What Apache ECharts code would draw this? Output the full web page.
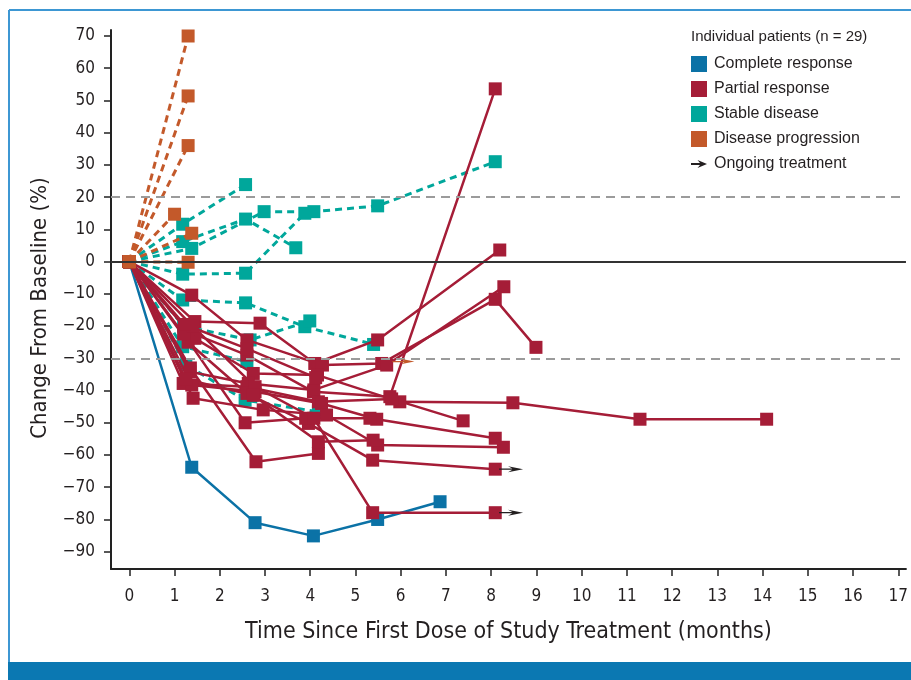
<!DOCTYPE html>
<html>
<head>
<meta charset="utf-8">
<script src="https://cdn.jsdelivr.net/npm/echarts@6.0.0/dist/echarts.min.js"></script>
<style>
  html, body { margin: 0; padding: 0; background: #fff; }
  #chart { width: 911px; height: 680px; }
</style>
</head>
<body>
<div id="chart"></div>
<script>
// tick labels
const xTicks = [0, 1, 2, 3, 4, 5, 6, 7, 8, 9, 10, 11, 12, 13, 14, 15, 16, 17];
const yTicks = [-90, -80, -70, -60, -50, -40, -30, -20, -10, 0, 10, 20, 30, 40, 50, 60, 70];

// [months, % change] per patient
const completeResponse = [
  [[0, 0], [1.38, -63.8], [2.78, -81.0], [4.07, -85.1], [5.49, -80.0], [6.87, -74.5]]
];
const partialResponse = [
  [[0, 0], [1.45, -18.6], [2.89, -19.1], [4.10, -31.6], [5.49, -24.3], [8.19, 3.6]],
  [[0, 0], [1.38, -10.4], [2.60, -24.3], [4.27, -32.1], [5.58, -31.6], [8.09, -11.7], [8.99, -26.6]],
  [[0, 0], [1.30, -21.7], [2.60, -29.0], [4.07, -40.4], [5.76, -41.9], [8.09, 53.6]],
  [[0, 0], [1.45, -23.8], [2.74, -34.7], [4.16, -35.2], [5.98, -43.5], [8.48, -43.8], [11.29, -48.9], [14.09, -48.9]],
  [[0, 0], [1.34, -34.2], [2.63, -37.8], [4.08, -39.8], [5.69, -32.1], [8.28, -7.8]],
  [[0, 0], [1.19, -37.8], [2.60, -38.8], [4.18, -43.5], [5.80, -42.6], [7.38, -49.4]],
  [[0, 0], [1.38, -38.3], [2.78, -40.4], [4.25, -44.0], [5.47, -48.9], [8.09, -54.8]],
  [[0, 0], [1.41, -42.4], [2.96, -46.0], [4.36, -47.6], [5.49, -56.9], [8.27, -57.6]],
  [[0, 0], [1.30, -25.0], [2.60, -40.9], [3.96, -50.2], [5.38, -61.6], [8.09, -64.4]],
  [[0, 0], [1.35, -33.0], [2.80, -62.1], [4.18, -59.5]],
  [[0, 0], [1.20, -22.5], [2.56, -50.0], [3.90, -48.6], [5.32, -48.6]],
  [[0, 0], [1.40, -20.0], [2.78, -38.8], [4.08, -48.6], [5.38, -77.9], [8.09, -77.9]],
  [[0, 0], [1.25, -36.5], [2.74, -41.5], [4.18, -55.9], [5.39, -55.4]],
  [[0, 0], [1.22, -19.5], [2.60, -27.0], [4.12, -36.0]]
];
const stableDisease = [
  [[0, 0], [1.18, 11.6], [2.57, 23.9]],
  [[0, 0], [1.18, 6.2], [2.57, 13.2], [3.68, 4.3]],
  [[0, 0], [1.38, 4.1], [2.98, 15.5], [4.08, 15.5], [5.49, 17.3], [8.09, 31.0]],
  [[0, 0], [1.18, -3.9], [2.57, -3.6], [3.88, 15.0]],
  [[0, 0], [1.18, -11.9], [2.57, -12.8], [3.88, -20.2], [5.40, -25.7]],
  [[0, 0], [1.20, -20.0], [2.67, -24.3], [3.99, -18.4]],
  [[0, 0], [1.25, -32.0], [2.56, -43.0], [4.18, -46.6]],
  [[0, 0], [1.18, -26.4], [2.60, -31.0]]
];
const diseaseProgression = [
  [[0, 0], [1.30, 70.0]],
  [[0, 0], [1.30, 51.4]],
  [[0, 0], [1.30, 36.0]],
  [[0, 0], [1.00, 14.7]],
  [[0, 0], [1.38, 8.8]],
  [[0, 0], [1.30, -0.2]]
];
// ongoing treatment arrows
const ongoingBlack = [[8.44, -64.4], [8.44, -77.9]];
const ongoingOrange = [[6.06, -31.0]];
const refLines = [0, 20, -30];

const C = { cr: '#0b72a6', pr: '#a51d37', sd: '#00a79b', pd: '#c3592a', ink: '#231f20' };
const narrow = "'Liberation Sans Narrow', 'DejaVu Sans Condensed', 'Roboto', sans-serif";
const arrowPath = 'path://M0,3.9 L11,3.9 L7.5,0 L20,5 L7.5,10 L11,6.1 L0,6.1 Z';

function patient(name, color, pts, dashed, z) {
  return {
    type: 'line', name: name, data: pts, z: z,
    symbol: 'rect', symbolSize: 13, showAllSymbol: true,
    lineStyle: { color: color, width: dashed ? 3 : 2.5, type: dashed ? [7, 5] : 'solid' },
    itemStyle: { color: color, borderWidth: 0 },
    emphasis: { disabled: true }
  };
}

const series = [{
  type: 'line', name: 'ref', data: [], z: 1, silent: true,
  markLine: {
    symbol: 'none', silent: true, label: { show: false }, animation: false,
    data: refLines.map(v => ({
      yAxis: v,
      lineStyle: v === 0 ? { color: '#333', width: 2, type: 'solid' } : { color: '#9b9b9b', width: 2, type: [9, 6] }
    }))
  }
}];
completeResponse.forEach(p => series.push(patient('Complete response', C.cr, p, false, 2)));
stableDisease.forEach(p => series.push(patient('Stable disease', C.sd, p, true, 2)));
partialResponse.forEach(p => series.push(patient('Partial response', C.pr, p, false, 3)));
diseaseProgression.forEach(p => series.push(patient('Disease progression', C.pd, p, true, 4)));
series.push({
  type: 'scatter', name: 'Ongoing treatment', z: 6,
  symbol: arrowPath, symbolSize: [24, 12], symbolKeepAspect: true,
  itemStyle: { color: C.ink, opacity: 1 },
  emphasis: { disabled: true },
  data: ongoingBlack.concat(ongoingOrange.map(p => ({ value: p, itemStyle: { color: C.pd, opacity: 1 }, symbolSize: [22, 11] })))
});

const chart = echarts.init(document.getElementById('chart'));
chart.setOption({
  animation: false,
  backgroundColor: '#fff',
  grid: { left: 111, right: 5, top: 30, bottom: 111 },
  title: {
    text: 'Individual patients (n = 29)', left: 691, top: 29, padding: 0,
    textStyle: { fontFamily: "'Liberation Sans', Arial, sans-serif", fontSize: 15, fontWeight: 'normal', color: C.ink }
  },
  legend: {
    orient: 'vertical', left: 691, top: 56, padding: 0,
    itemWidth: 16, itemHeight: 16, itemGap: 9, selectedMode: false,
    itemStyle: { borderWidth: 0, opacity: 1 },
    textStyle: { fontFamily: "'Liberation Sans', Arial, sans-serif", fontSize: 16, color: C.ink, padding: [0, 0, 0, 2] },
    data: [
      { name: 'Complete response', icon: 'rect' },
      { name: 'Partial response', icon: 'rect' },
      { name: 'Stable disease', icon: 'rect' },
      { name: 'Disease progression', icon: 'rect' },
      { name: 'Ongoing treatment', icon: 'path://M0,2.9 L9,2.9 L6.5,0 L16,4 L6.5,8 L9,5.1 L0,5.1 Z' }
    ]
  },
  xAxis: {
    type: 'value', min: -0.405, max: 17.17,
    name: 'Time Since First Dose of Study Treatment (months)',
    nameLocation: 'middle', nameGap: 52,
    nameTextStyle: { fontFamily: narrow, fontSize: 23, color: C.ink },
    axisLine: { onZero: false, lineStyle: { color: '#222', width: 2 } },
    axisTick: { customValues: xTicks, length: 7, lineStyle: { color: '#222', width: 1.5 } },
    axisLabel: { customValues: xTicks, margin: 19, fontFamily: narrow, fontSize: 17, color: C.ink },
    splitLine: { show: false }
  },
  yAxis: {
    type: 'value', min: -95.37, max: 71.86,
    name: 'Change From Baseline (%)',
    nameLocation: 'middle', nameGap: 60,
    nameTextStyle: { fontFamily: narrow, fontSize: 22, color: C.ink, padding: [0, 17, 0, 0] },
    axisLine: { onZero: false, lineStyle: { color: '#222', width: 2 } },
    axisTick: { customValues: yTicks, length: 7, lineStyle: { color: '#222', width: 1.5 } },
    axisLabel: {
      customValues: yTicks, margin: 16, fontFamily: narrow, fontSize: 17, color: C.ink,
      formatter: v => String(v).replace('-', '\u2212')
    },
    splitLine: { show: false }
  },
  graphic: [
    { type: 'line', shape: { x1: 9, y1: 10, x2: 9, y2: 662 }, style: { stroke: '#3d97d3', lineWidth: 2 } },
    { type: 'line', shape: { x1: 9, y1: 10, x2: 911, y2: 10 }, style: { stroke: '#3d97d3', lineWidth: 2 } },
    { type: 'rect', shape: { x: 8, y: 662, width: 903, height: 18 }, style: { fill: '#0b78b2' } }
  ],
  series: series
});
</script>
</body>
</html>
